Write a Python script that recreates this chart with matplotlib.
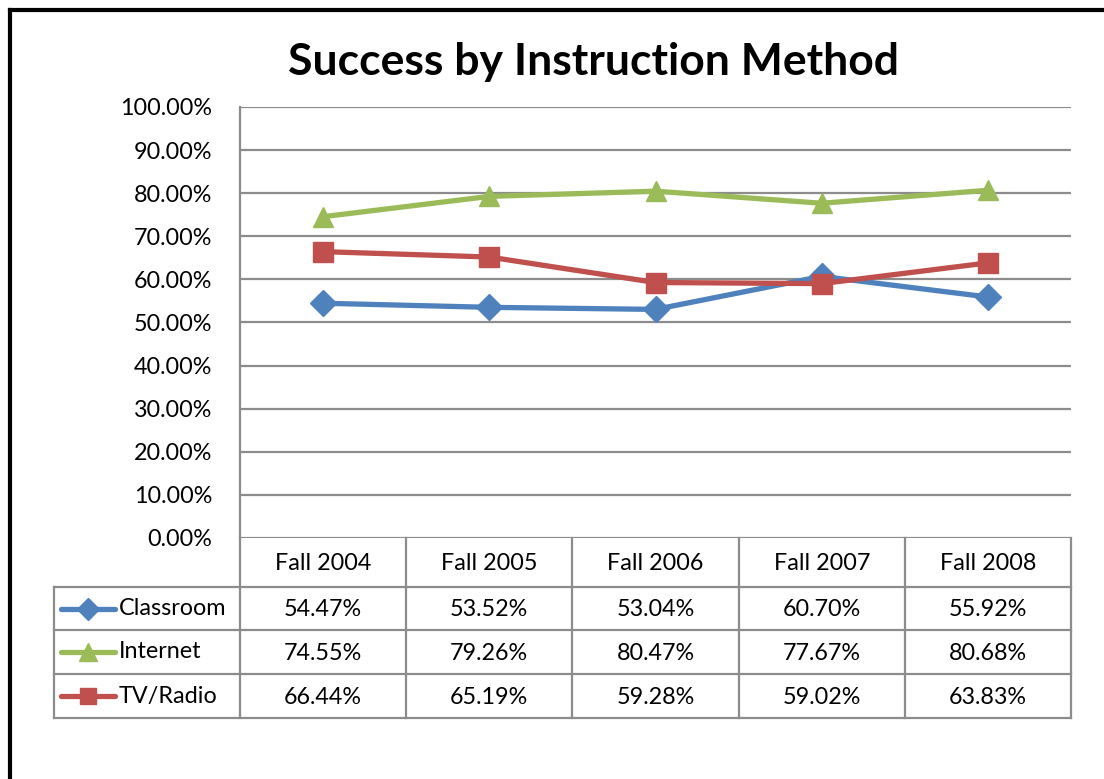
import matplotlib
matplotlib.use("Agg")
import matplotlib.pyplot as plt
import numpy as np

plt.rcParams['font.family'] = ['Lato', 'DejaVu Sans']

# data
terms = ["Fall 2004", "Fall 2005", "Fall 2006", "Fall 2007", "Fall 2008"]
classroom = [54.47, 53.52, 53.04, 60.70, 55.92]
internet = [74.55, 79.26, 80.47, 77.67, 80.68]
tv_radio = [66.44, 65.19, 59.28, 59.02, 63.83]

series = [
    ("Classroom", classroom, "#4F81BD", "D", 13),
    ("Internet", internet, "#9BBB59", "^", 14.5),
    ("TV/Radio", tv_radio, "#C0504D", "s", 14),
]

FS = 16.8
W, H = 1104, 779
fig = plt.figure(figsize=(W / 100, H / 100), dpi=100)

# plot area in pixels
px_l, px_r, px_t, px_b = 240, 1071, 107, 538
ax = fig.add_axes([px_l / W, 1 - px_b / H, (px_r - px_l) / W, (px_b - px_t) / H])
x = np.arange(len(terms))
for name, vals, col, mk, ms in series:
    ax.plot(x, vals, color=col, lw=3.8, marker=mk, ms=ms, zorder=3)
ax.set_xlim(-0.5, len(terms) - 0.5)
ax.set_ylim(0, 100)
ax.set_yticks(np.arange(0, 101, 10))
ax.set_yticklabels([f"{v:.2f}%" for v in np.arange(0, 101, 10)], fontsize=FS)
ax.tick_params(axis='y', length=0, pad=20)
ax.set_xticks([])
ax.grid(axis='y', color='#8c8c8c', lw=1.6)
for s in ['top', 'right', 'bottom']:
    ax.spines[s].set_visible(False)
ax.spines['left'].set_color('#8c8c8c')
ax.spines['left'].set_linewidth(1.6)

# overlay for the table, title and frame (pixel coords)
ov = fig.add_axes([0, 0, 1, 1], zorder=5)
ov.set_xlim(0, W)
ov.set_ylim(H, 0)
ov.axis('off')
ov.patch.set_alpha(0)

ov.text(594, 62, "Success by Instruction Method", ha='center', va='center',
        fontsize=32, fontweight='bold')

gc = '#8c8c8c'
col_edges = np.linspace(px_l, px_r, len(terms) + 1)
leg_l = 54
row_edges = [538, 587, 630, 674, 718]

for xe in col_edges:
    ov.plot([xe, xe], [row_edges[0], row_edges[-1]], color=gc, lw=1.6)
ov.plot([leg_l, leg_l], [row_edges[1], row_edges[-1]], color=gc, lw=1.6)
for ye in row_edges[1:]:
    ov.plot([leg_l, px_r], [ye, ye], color=gc, lw=1.6)

centers = (col_edges[:-1] + col_edges[1:]) / 2
hy = (row_edges[0] + row_edges[1]) / 2
for cx, t in zip(centers, terms):
    ov.text(cx, hy + 1, t, ha='center', va='center', fontsize=FS)

for i, (name, vals, col, mk, ms) in enumerate(series):
    ry = (row_edges[i + 1] + row_edges[i + 2]) / 2
    ov.plot([61, 115], [ry, ry], color=col, lw=3.8, solid_capstyle='round')
    ov.plot([88], [ry], marker=mk, color=col, ms=ms * 0.85)
    ov.text(119, ry, name, ha='left', va='center', fontsize=FS)
    for cx, v in zip(centers, vals):
        ov.text(cx, ry + 1, f"{v:.2f}%", ha='center', va='center', fontsize=FS)

# outer frame (left and top edges only visible)
ov.plot([10, 10], [10, H], color='black', lw=3)
ov.plot([10, W], [10, 10], color='black', lw=3)

fig.savefig("out.png", dpi=100)
